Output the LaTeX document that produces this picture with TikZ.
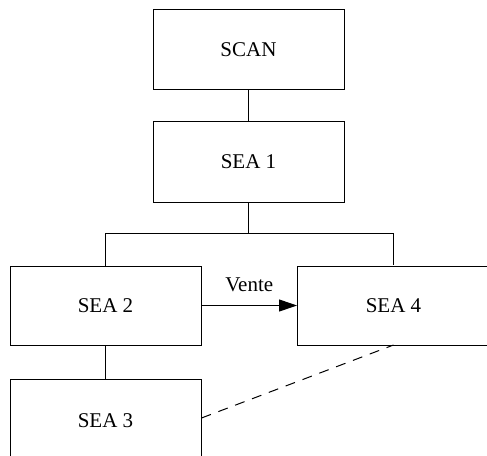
\documentclass[tikz,border=0pt]{standalone}
\usepackage{fontspec}
\setmainfont{Liberation Serif}
\usetikzlibrary{arrows.meta}
\begin{document}
\begin{tikzpicture}[x=1pt,y=-1pt,
  box/.style={draw, line width=1pt, minimum width=191pt, minimum height=80pt, inner sep=0pt,
    font=\fontsize{21}{25}\selectfont},
  conn/.style={line width=1pt},
  lbl/.style={font=\fontsize{21}{25}\selectfont}]
\useasboundingbox (0,0) rectangle (487,455);
\node[box] (scan) at (248.5,49.5) {SCAN};
\node[box, minimum height=81pt] (sea1) at (248.5,161.5) {SEA 1};
\node[box, minimum height=79pt] (sea2) at (105.5,305.5) {SEA 2};
\node[box, minimum height=79pt, minimum width=200pt] (sea4) at (397.5,305.5) {};
\node[box, draw=none] (sea4t) at (393.5,305.5) {SEA 4};
\node[box, minimum height=84pt] (sea3) at (105.5,421) {SEA 3};
\coordinate (j) at (248.5,233);
\coordinate (s4b) at (393.5,345);
\draw[conn] (scan) -- (sea1);
\draw[conn] (sea1) -- (j);
\draw[conn] (j) -| (sea4t.north);
\draw[conn] (j) -| (sea2.north);
\draw[conn] (sea2) -- (sea3);
\draw[conn, -{Triangle[length=18pt,width=12pt]}] (sea2) -- node[lbl, midway, above=10pt] (vente) {Vente} (sea4);
\draw[conn, dash pattern=on 10pt off 8pt] (sea3.east |- 0,418) coordinate (s3e) -- (s4b);
\end{tikzpicture}
\end{document}
